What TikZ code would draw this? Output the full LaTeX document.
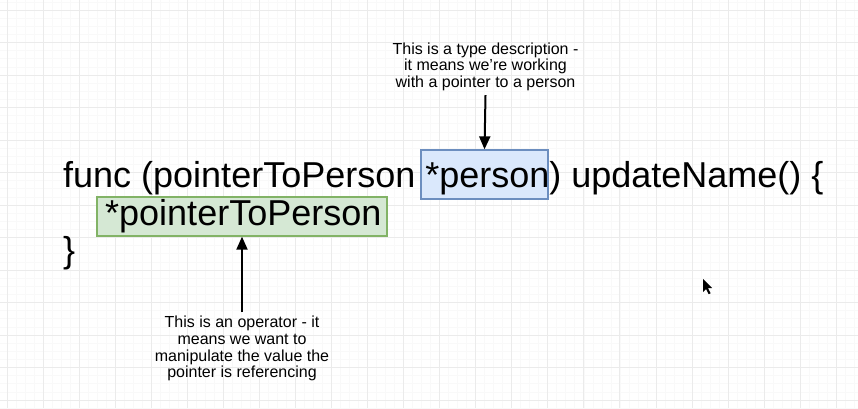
\documentclass[tikz,border=0pt]{standalone}
\usepackage{fontspec}
\setmainfont{Liberation Sans}
\usetikzlibrary{arrows.meta}

\definecolor{gridmajor}{HTML}{EBEBEB}
\definecolor{gridminor}{HTML}{F9F9F9}
\definecolor{typefill}{HTML}{DAE8FC}
\definecolor{typeline}{HTML}{6C8EBF}
\definecolor{opfill}{HTML}{D5E8D4}
\definecolor{opline}{HTML}{82B366}

\tikzset{
  gridline/.style={gridmajor, line width=0.8pt},
  finegrid/.style={gridminor, line width=0.6pt},
  code/.style={font=\fontsize{36}{37}\selectfont, inner sep=0pt, text=black},
  note/.style={font=\fontsize{16}{16.7}\selectfont, align=center, inner sep=4pt, text=black},
  typebox/.style={draw=typeline, fill=typefill, line width=1.3pt, inner sep=0pt},
  opbox/.style={draw=opline, fill=opfill, line width=1.3pt, inner sep=0pt},
  pointer/.style={-{Triangle[length=13pt,width=11pt]}, line width=2pt, black},
}

\begin{document}
\begin{tikzpicture}[x=1pt, y=-1pt]
  \useasboundingbox (0,0) rectangle (858,408);
  \fill[white] (0,0) rectangle (858,408);

  % background grid: faint quarter lines, then the main lines
  \foreach \i in {-1,...,95}
    \draw[finegrid] ({7+9.0125*\i},0) -- ({7+9.0125*\i},408);
  \foreach \j in {-1,...,50}
    \draw[finegrid] (0,{10+8.125*\j}) -- (858,{10+8.125*\j});
  \foreach \i in {0,...,23}
    \draw[gridline] ({7+36.05*\i},0) -- ({7+36.05*\i},408);
  \foreach \j in {0,...,12}
    \draw[gridline] (0,{10+32.5*\j}) -- (858,{10+32.5*\j});

  % highlight boxes behind the code
  \node[typebox, minimum width=127pt, minimum height=49pt] (typehl) at (484.5,174.5) {};
  \node[opbox, minimum width=290pt, minimum height=39pt] (ophl) at (242,216.5) {};

  % the code
  \node[code, anchor=base west] (line1) at (63,187) {func (pointerToPerson *person) updateName() \{};
  \node[code, anchor=base west] (line2) at (105,225) {*pointerToPerson};
  \node[code, anchor=base west] (line3) at (63,262) {\}};

  % explanations
  \node[note, anchor=north] (typenote) at (485.5,38.5)
    {This is a type description -\\it means we{\char39}re working\\with a pointer to a person};
  \node[note, anchor=north] (opnote) at (242,312)
    {This is an operator - it\\means we want to\\manipulate the value the\\pointer is referencing};

  \draw[pointer] (typenote.south) -- (typehl.north);
  \draw[pointer] (opnote.north) -- (ophl.south);

  % mouse pointer
  \fill[black] (703,279) -- ++(0,13) -- ++(3,-3) -- ++(2.6,5.2) -- ++(2,-1)
    -- ++(-2.6,-5) -- ++(4.2,0) -- cycle;
\end{tikzpicture}
\end{document}
